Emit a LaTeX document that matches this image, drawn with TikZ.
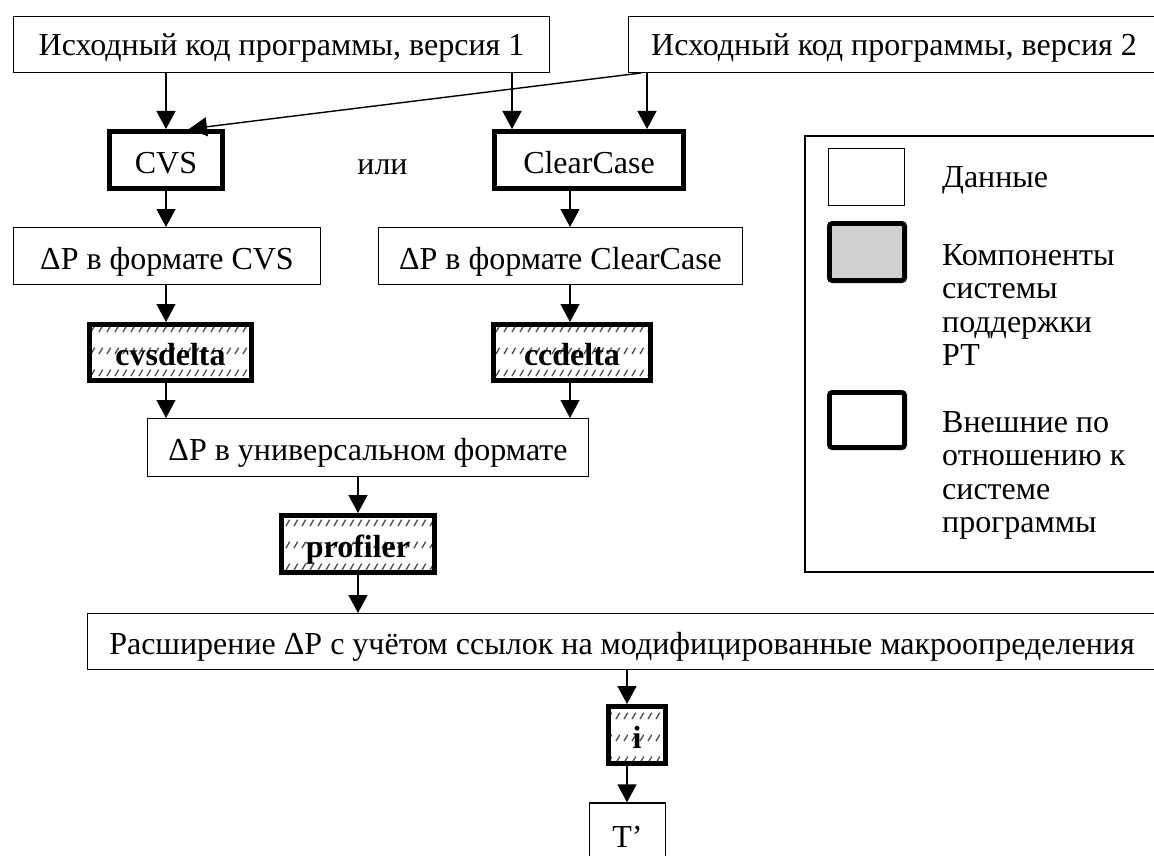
\documentclass[tikz,border=0pt]{standalone}
\usepackage{fontspec}
\setmainfont{Liberation Serif}
\usetikzlibrary{arrows.meta,patterns.meta}
\pgfdeclarepattern{name=rowhatch, type=uncolored,
  bottom left={\pgfpoint{0pt}{0pt}}, top right={\pgfpoint{7.5pt}{21.5pt}},
  tile size={\pgfpoint{7.5pt}{21.5pt}},
  code={\pgfsetlinewidth{1.4pt}\pgfpathmoveto{\pgfpoint{1pt}{7pt}}\pgfpathlineto{\pgfpoint{5pt}{13.5pt}}\pgfusepath{stroke}}}
\begin{document}
\begin{tikzpicture}[x=1pt,y=-1pt,
  every node/.style={font=\fontsize{32}{38}\selectfont, inner sep=0pt},
  boxtext/.style={text height=26pt, text depth=0pt},
  databox/.style={boxtext, draw, line width=1.3pt, fill=white},
  compbox/.style={boxtext, draw, line width=4.8pt, pattern=rowhatch, pattern color=black!70, font=\fontsize{32}{38}\selectfont\bfseries},
  extbox/.style={boxtext, draw, line width=4.8pt, fill=white},
  legtext/.style={anchor=base west},
  arr/.style={line width=1.4pt, -{Triangle[width=19pt,length=18pt]}},
]
\useasboundingbox (0,0) rectangle (1154,856);

% x positions of connectors
\coordinate (xcvs) at (166,0);
\coordinate (xccA) at (512,0);
\coordinate (xccB) at (647,0);
\coordinate (xcc) at (570,0);
\coordinate (xpr) at (358,0);
\coordinate (xi) at (627,0);

% main nodes
\node[databox, text height=23pt, minimum width=535.7, minimum height=55.7] (v1) at (281.5,44.5) {Исходный код программы, версия 1};
\node[databox, text height=23pt, minimum width=530.7, minimum height=55.7] (v2) at (894,44.5) {Исходный код программы, версия 2};
\node[extbox, minimum width=113.2, minimum height=57.2] (cvs) at (166,160) {CVS};
\node[extbox, minimum width=189.2, minimum height=57.2] (cc) at (589,160) {ClearCase};
\node[anchor=base] (ili) at (382.5,175) {или};
\node[databox, minimum width=306.7, minimum height=56.7] (dpcvs) at (167,256) {ΔP в формате CVS};
\node[databox, minimum width=363.7, minimum height=56.7] (dpcc) at (560.5,256) {ΔP в формате ClearCase};
\node[compbox, minimum width=162.2, minimum height=56.2] (cvsdelta) at (170.5,352.5) {cvsdelta};
\node[compbox, minimum width=157.2, minimum height=56.2] (ccdelta) at (572,352.5) {ccdelta};
\node[databox, minimum width=440.7, minimum height=57.7] (univ) at (368,447.5) {ΔP в универсальном формате};
\node[compbox, minimum width=153.2, minimum height=57.2] (prof) at (358,544) {profiler};
\node[databox, minimum width=1069.7, minimum height=55.7] (big) at (622,641.5) {Расширение ΔP с учётом ссылок на модифицированные макроопределения};
\node[compbox, minimum width=57.2, minimum height=57.2] (ib) at (637,735) {i};
\node[databox, minimum width=75.7, minimum height=62] (tp) at (627.5,834) {T’};

% legend
\node[draw, line width=1.6pt, minimum width=355, minimum height=436] (legend) at (982.5,354) {};
\node[databox, minimum width=75.7, minimum height=56.7] (l1) at (866.5,177) {};
\node[draw, line width=4.8pt, fill=black!18, rounded corners=3pt, minimum width=75.2, minimum height=57.2] (l2) at (867,252) {};
\node[draw, line width=4.8pt, fill=white, rounded corners=3pt, minimum width=75.2, minimum height=55.2] (l3) at (867,420) {};
\node[legtext] (t1) at (942,187) {Данные};
\node[legtext] (t2a) at (942,265) {Компоненты};
\node[legtext] (t2b) at (942,298.5) {системы};
\node[legtext] (t2c) at (942,332) {поддержки};
\node[legtext] (t2d) at (942,365.5) {РТ};
\node[legtext] (t3a) at (942,432) {Внешние по};
\node[legtext] (t3b) at (942,465.5) {отношению к};
\node[legtext] (t3c) at (942,499) {системе};
\node[legtext] (t3d) at (942,532.5) {программы};

% connectors
\draw[arr] (v1.south -| xcvs) -- (cvs.north -| xcvs);
\draw[arr] (v1.south -| xccA) -- (cc.north -| xccA);
\draw[arr] (v2.south -| xccB) -- (cc.north -| xccB);
\draw[arr] ([xshift=13pt]v2.south west) -- ([xshift=23pt]cvs.north);
\draw[arr] (cvs.south -| xcvs) -- (dpcvs.north -| xcvs);
\draw[arr] (cc.south -| xcc) -- (dpcc.north -| xcc);
\draw[arr] (dpcvs.south -| xcvs) -- (cvsdelta.north -| xcvs);
\draw[arr] (dpcc.south -| xcc) -- (ccdelta.north -| xcc);
\draw[arr] (cvsdelta.south -| xcvs) -- (univ.north -| xcvs);
\draw[arr] (ccdelta.south -| xcc) -- (univ.north -| xcc);
\draw[arr] (univ.south -| xpr) -- (prof.north -| xpr);
\draw[arr] (prof.south -| xpr) -- (big.north -| xpr);
\draw[arr] (big.south -| xi) -- (ib.north -| xi);
\draw[arr] (ib.south -| xi) -- (tp.north -| xi);
\end{tikzpicture}
\end{document}
